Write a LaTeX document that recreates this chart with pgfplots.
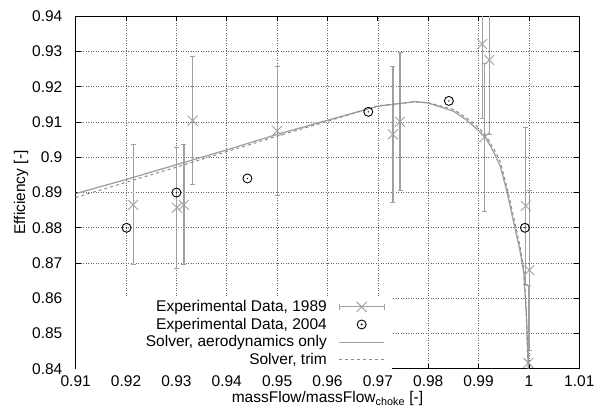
\documentclass[border=0pt]{standalone}
\usepackage{fontspec}
\setmainfont{Liberation Sans}
\usepackage{pgfplots}
\pgfplotsset{compat=1.18}
\definecolor{errgray}{RGB}{160,160,160}
\definecolor{linegray}{RGB}{160,160,160}
\definecolor{dashgray}{RGB}{140,140,140}
\pgfdeclareplotmark{odot}{%
  \pgfpathcircle{\pgfpointorigin}{\pgfplotmarksize}\pgfusepathqstroke
  \pgfpathcircle{\pgfpointorigin}{0.75pt}\pgfusepathqfill}

\pgfplotstableread{
x      y      e
0.9214 0.8865 0.0170
0.9301 0.8857 0.0172
0.9315 0.8865 0.0170
0.9332 0.9104 0.0181
0.9500 0.9075 0.0183
0.9730 0.9065 0.0193
0.9744 0.9101 0.0195
0.9907 0.9321 0.0210
0.9921 0.9276 0.0210
0.9912 0.9057 0.0210
0.9994 0.8862 0.0223
1.0001 0.8680 0.0227
0.9999 0.8417 0.0220
}\expA

\pgfplotstableread{
x      y
0.9201 0.8800
0.9300 0.8900
0.9441 0.8940
0.9681 0.9129
0.9841 0.9160
0.9992 0.8800
}\expB

\pgfplotstableread{
x       y
0.91    0.8897
0.92    0.8937
0.93    0.8979
0.94    0.9021
0.95    0.9065
0.96    0.9105
0.97    0.9145
0.9774  0.9158
0.98    0.9154
0.985   0.9131
0.9876  0.9106
0.9903  0.9072
0.9913  0.9058
0.9930  0.9015
0.9943  0.8975
0.9956  0.8905
0.9969  0.8820
0.9982  0.8737
0.9990  0.8671
0.9995  0.8550
0.99987 0.8400
}\aero

\pgfplotstableread{
x       y
0.91    0.8886
0.93    0.8972
0.95    0.9060
0.96    0.9102
0.97    0.9146
0.9774  0.9157
0.98    0.9155
0.985   0.9136
0.9876  0.9112
0.9903  0.9080
0.9913  0.9065
0.9930  0.9025
0.9943  0.8988
0.9956  0.8918
0.9969  0.8835
0.9982  0.8750
0.9990  0.8680
0.9995  0.8555
0.99987 0.8400
}\trim

\begin{document}
\fontsize{15.5}{18.5}\selectfont
\begin{tikzpicture}
\useasboundingbox (-75.7pt,-38.2pt) rectangle (530.3pt,368.8pt);
\begin{axis}[
  scale only axis, width=503.6pt, height=352.5pt,
  xmin=0.91, xmax=1.01, ymin=0.84, ymax=0.94,
  xtick={0.91,0.92,0.93,0.94,0.95,0.96,0.97,0.98,0.99,1,1.01},
  ytick={0.84,0.85,0.86,0.87,0.88,0.89,0.9,0.91,0.92,0.93,0.94},
  scaled ticks=false,
  /pgf/number format/assume math mode=true,
  tick align=inside, major tick length=5pt,
  tick style={black, line width=0.8pt},
  axis line style={black, line width=1.1pt},
  grid=major,
  grid style={black!60, line width=0.6pt, dash pattern=on 1pt off 1.5pt},
  xticklabel style={inner sep=0pt, yshift=-7pt},
  yticklabel style={xshift=-8pt},
  every axis x label/.style={at={(axis description cs:0.5,0)}, anchor=base, inner sep=0pt, yshift=-34pt},
  every axis y label/.style={at={(axis description cs:-0.1086,0.5)}, anchor=center, rotate=90},
  xlabel={massFlow/massFlow\textsubscript{choke} [-]},
  ylabel={Efficiency [-]},
  legend cell align=right,
  legend plot pos=right,
  legend style={at={(0.6142,0.001)}, anchor=south east, draw=none, fill=none,
    inner sep=0pt, row sep=1pt, column sep=11.7pt,
    nodes={inner xsep=0pt, inner ysep=1pt, text height=12pt, text depth=2.7pt}},
]
\fill[white] (axis cs:0.91,0.84) rectangle (axis cs:0.9728,0.8605);

\addplot[only marks, mark=x, mark size=7pt, color=errgray, line width=0.9pt, forget plot,
  error bars/.cd, y dir=both, y explicit,
  error bar style={line width=1.1pt, color=errgray},
  error mark options={rotate=90, mark size=2.5pt, line width=1pt, color=errgray},
] table[x=x, y=y, y error=e] {\expA};
\addlegendimage{legend image code/.code={
    \draw[errgray, line width=1.1pt] (0pt,0pt) -- (45pt,0pt);
    \draw[errgray, line width=1pt] (0pt,-3pt) -- (0pt,3pt) (45pt,-3pt) -- (45pt,3pt);
    \draw[errgray, line width=0.9pt] (17.5pt,-5pt) -- (27.5pt,5pt) (17.5pt,5pt) -- (27.5pt,-5pt);}}
\addlegendentry{Experimental Data, 1989}

\addplot[only marks, mark=odot, mark size=4.5pt, color=black, line width=0.9pt,
  forget plot] table[x=x, y=y] {\expB};
\addlegendimage{legend image code/.code={
    \draw[black, line width=0.9pt] (22.5pt,0pt) circle[radius=4.5pt];
    \fill[black] (22.5pt,0pt) circle[radius=0.75pt];}}
\addlegendentry{Experimental Data, 2004}

\addplot[color=linegray, line width=1.3pt, mark=none, forget plot]
  table[x=x, y=y] {\aero};
\addlegendimage{legend image code/.code={\draw[linegray, line width=1.3pt] (0pt,0pt) -- (45pt,0pt);}}
\addlegendentry{Solver, aerodynamics only}

\addplot[color=dashgray, line width=1pt, mark=none, dash pattern=on 3pt off 3pt, forget plot]
  table[x=x, y=y] {\trim};
\addlegendimage{legend image code/.code={\draw[dashgray, line width=1pt, dash pattern=on 3pt off 3pt] (0pt,0pt) -- (45pt,0pt);}}
\addlegendentry{Solver, trim}
\end{axis}
\end{tikzpicture}
\end{document}
